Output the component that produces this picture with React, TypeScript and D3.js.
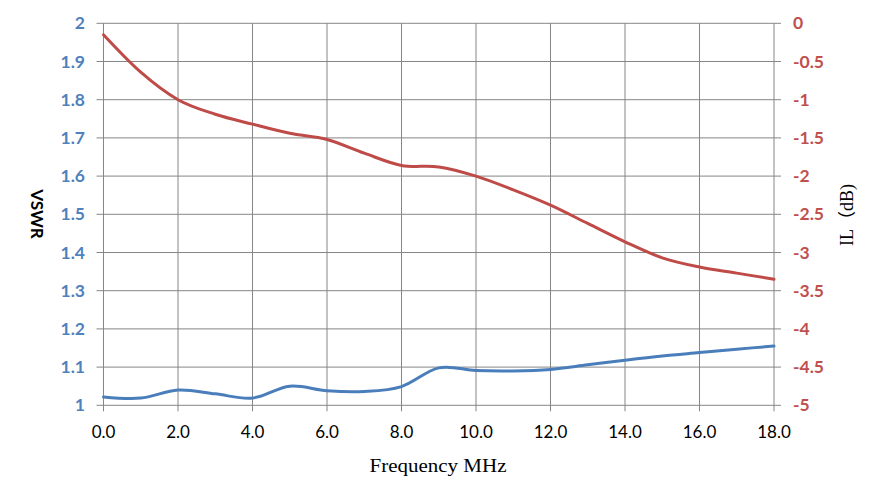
import * as d3 from 'd3';

const freq = [0, 1, 2, 3, 4, 5, 6, 7, 8, 9, 10, 11, 12, 13, 14, 15, 16, 17, 18];
const vswr = [
  1.022, 1.019, 1.04, 1.03, 1.019, 1.05, 1.038, 1.036, 1.049, 1.098, 1.091, 1.09, 1.094,
  1.106, 1.118, 1.129, 1.138, 1.147, 1.155
];
const insertionLoss = [
  -0.15, -0.64, -1.0, -1.19, -1.32, -1.44, -1.52, -1.7, -1.86, -1.88, -2.0, -2.18, -2.38,
  -2.62, -2.86, -3.07, -3.19, -3.27, -3.35
];
const xTicks = [0, 2, 4, 6, 8, 10, 12, 14, 16, 18];
const leftTicks = [1, 1.1, 1.2, 1.3, 1.4, 1.5, 1.6, 1.7, 1.8, 1.9, 2];
const rightTicks = [0, -0.5, -1, -1.5, -2, -2.5, -3, -3.5, -4, -4.5, -5];

const W = 886;
const H = 503;
const margin = { top: 23.3, right: 112, bottom: 97.7, left: 103.5 };
const gridColor = '#868686';
const blue = '#4A7EBB';
const red = '#BE4B48';
const labelBlue = '#4F81BD';
const labelRed = '#C0504D';
const tickFont = 'Lato, "Open Sans", sans-serif';
const serifFont = '"Liberation Serif", "Noto Sans CJK SC", serif';

export default function App() {
  const x = d3.scaleLinear().domain([0, 18]).range([margin.left, W - margin.right]);
  const yL = d3.scaleLinear().domain([1, 2]).range([H - margin.bottom, margin.top]);
  const yR = d3.scaleLinear().domain([-5, 0]).range([H - margin.bottom, margin.top]);

  const curve = d3.curveCatmullRom.alpha(0);
  const vswrLine = d3
    .line<number>()
    .x((_, i) => x(freq[i]))
    .y((d) => yL(d))
    .curve(curve);
  const ilLine = d3
    .line<number>()
    .x((_, i) => x(freq[i]))
    .y((d) => yR(d))
    .curve(curve);

  const x0 = x(0);
  const x1 = x(18);
  const yBottom = yL(1);
  const yTop = yL(2);

  return (
    <svg
      width={W}
      height={H}
      style={{ position: 'absolute', left: 0, top: 0, background: '#fff' }}
    >
      {/* vertical grid + bottom ticks */}
      {xTicks.map((t) => (
        <g key={`x${t}`}>
          <line x1={x(t)} x2={x(t)} y1={yTop} y2={yBottom + 6} stroke={gridColor} strokeWidth={1} />
          <text
            x={x(t)}
            y={438}
            textAnchor="middle"
            fontFamily={tickFont}
            fontSize={17}
            fill="#000"
          >
            {t.toFixed(1)}
          </text>
        </g>
      ))}

      {/* horizontal grid + left ticks */}
      {leftTicks.map((t) => (
        <g key={`l${t}`}>
          <line x1={x0 - 7} x2={x1 + 7} y1={yL(t)} y2={yL(t)} stroke={gridColor} strokeWidth={1} />
          <text
            x={85}
            y={yL(t) + 6}
            textAnchor="end"
            fontFamily={tickFont}
            fontWeight="bold"
            fontSize={17.5}
            fill={labelBlue}
          >
            {d3.format('~g')(t)}
          </text>
        </g>
      ))}

      {/* right ticks */}
      {rightTicks.map((t) => (
        <text
          key={`r${t}`}
          x={793}
          y={yR(t) + 6}
          textAnchor="start"
          fontFamily={tickFont}
          fontWeight="bold"
          fontSize={17.5}
          fill={labelRed}
        >
          {d3.format('~g')(t).replace('−', '-')}
        </text>
      ))}

      <path d={ilLine(insertionLoss) ?? ''} fill="none" stroke={red} strokeWidth={3} strokeLinecap="round" />
      <path d={vswrLine(vswr) ?? ''} fill="none" stroke={blue} strokeWidth={3} strokeLinecap="round" />

      {/* axis titles */}
      <text
        transform="translate(31,214) rotate(90)"
        textAnchor="middle"
        fontFamily={tickFont}
        fontWeight="bold"
        fontSize={17}
        fill="#000"
      >
        VSWR
      </text>
      <text
        transform="translate(853,215) rotate(-90)"
        textAnchor="middle"
        fontFamily={serifFont}
        fontSize={18}
        fill="#000"
      >
        IL（dB)
      </text>
      <text
        x={438}
        y={472}
        textAnchor="middle"
        fontFamily={serifFont}
        fontSize={18}
        textLength={137}
        lengthAdjust="spacingAndGlyphs"
        fill="#000"
      >
        Frequency MHz
      </text>
    </svg>
  );
}
